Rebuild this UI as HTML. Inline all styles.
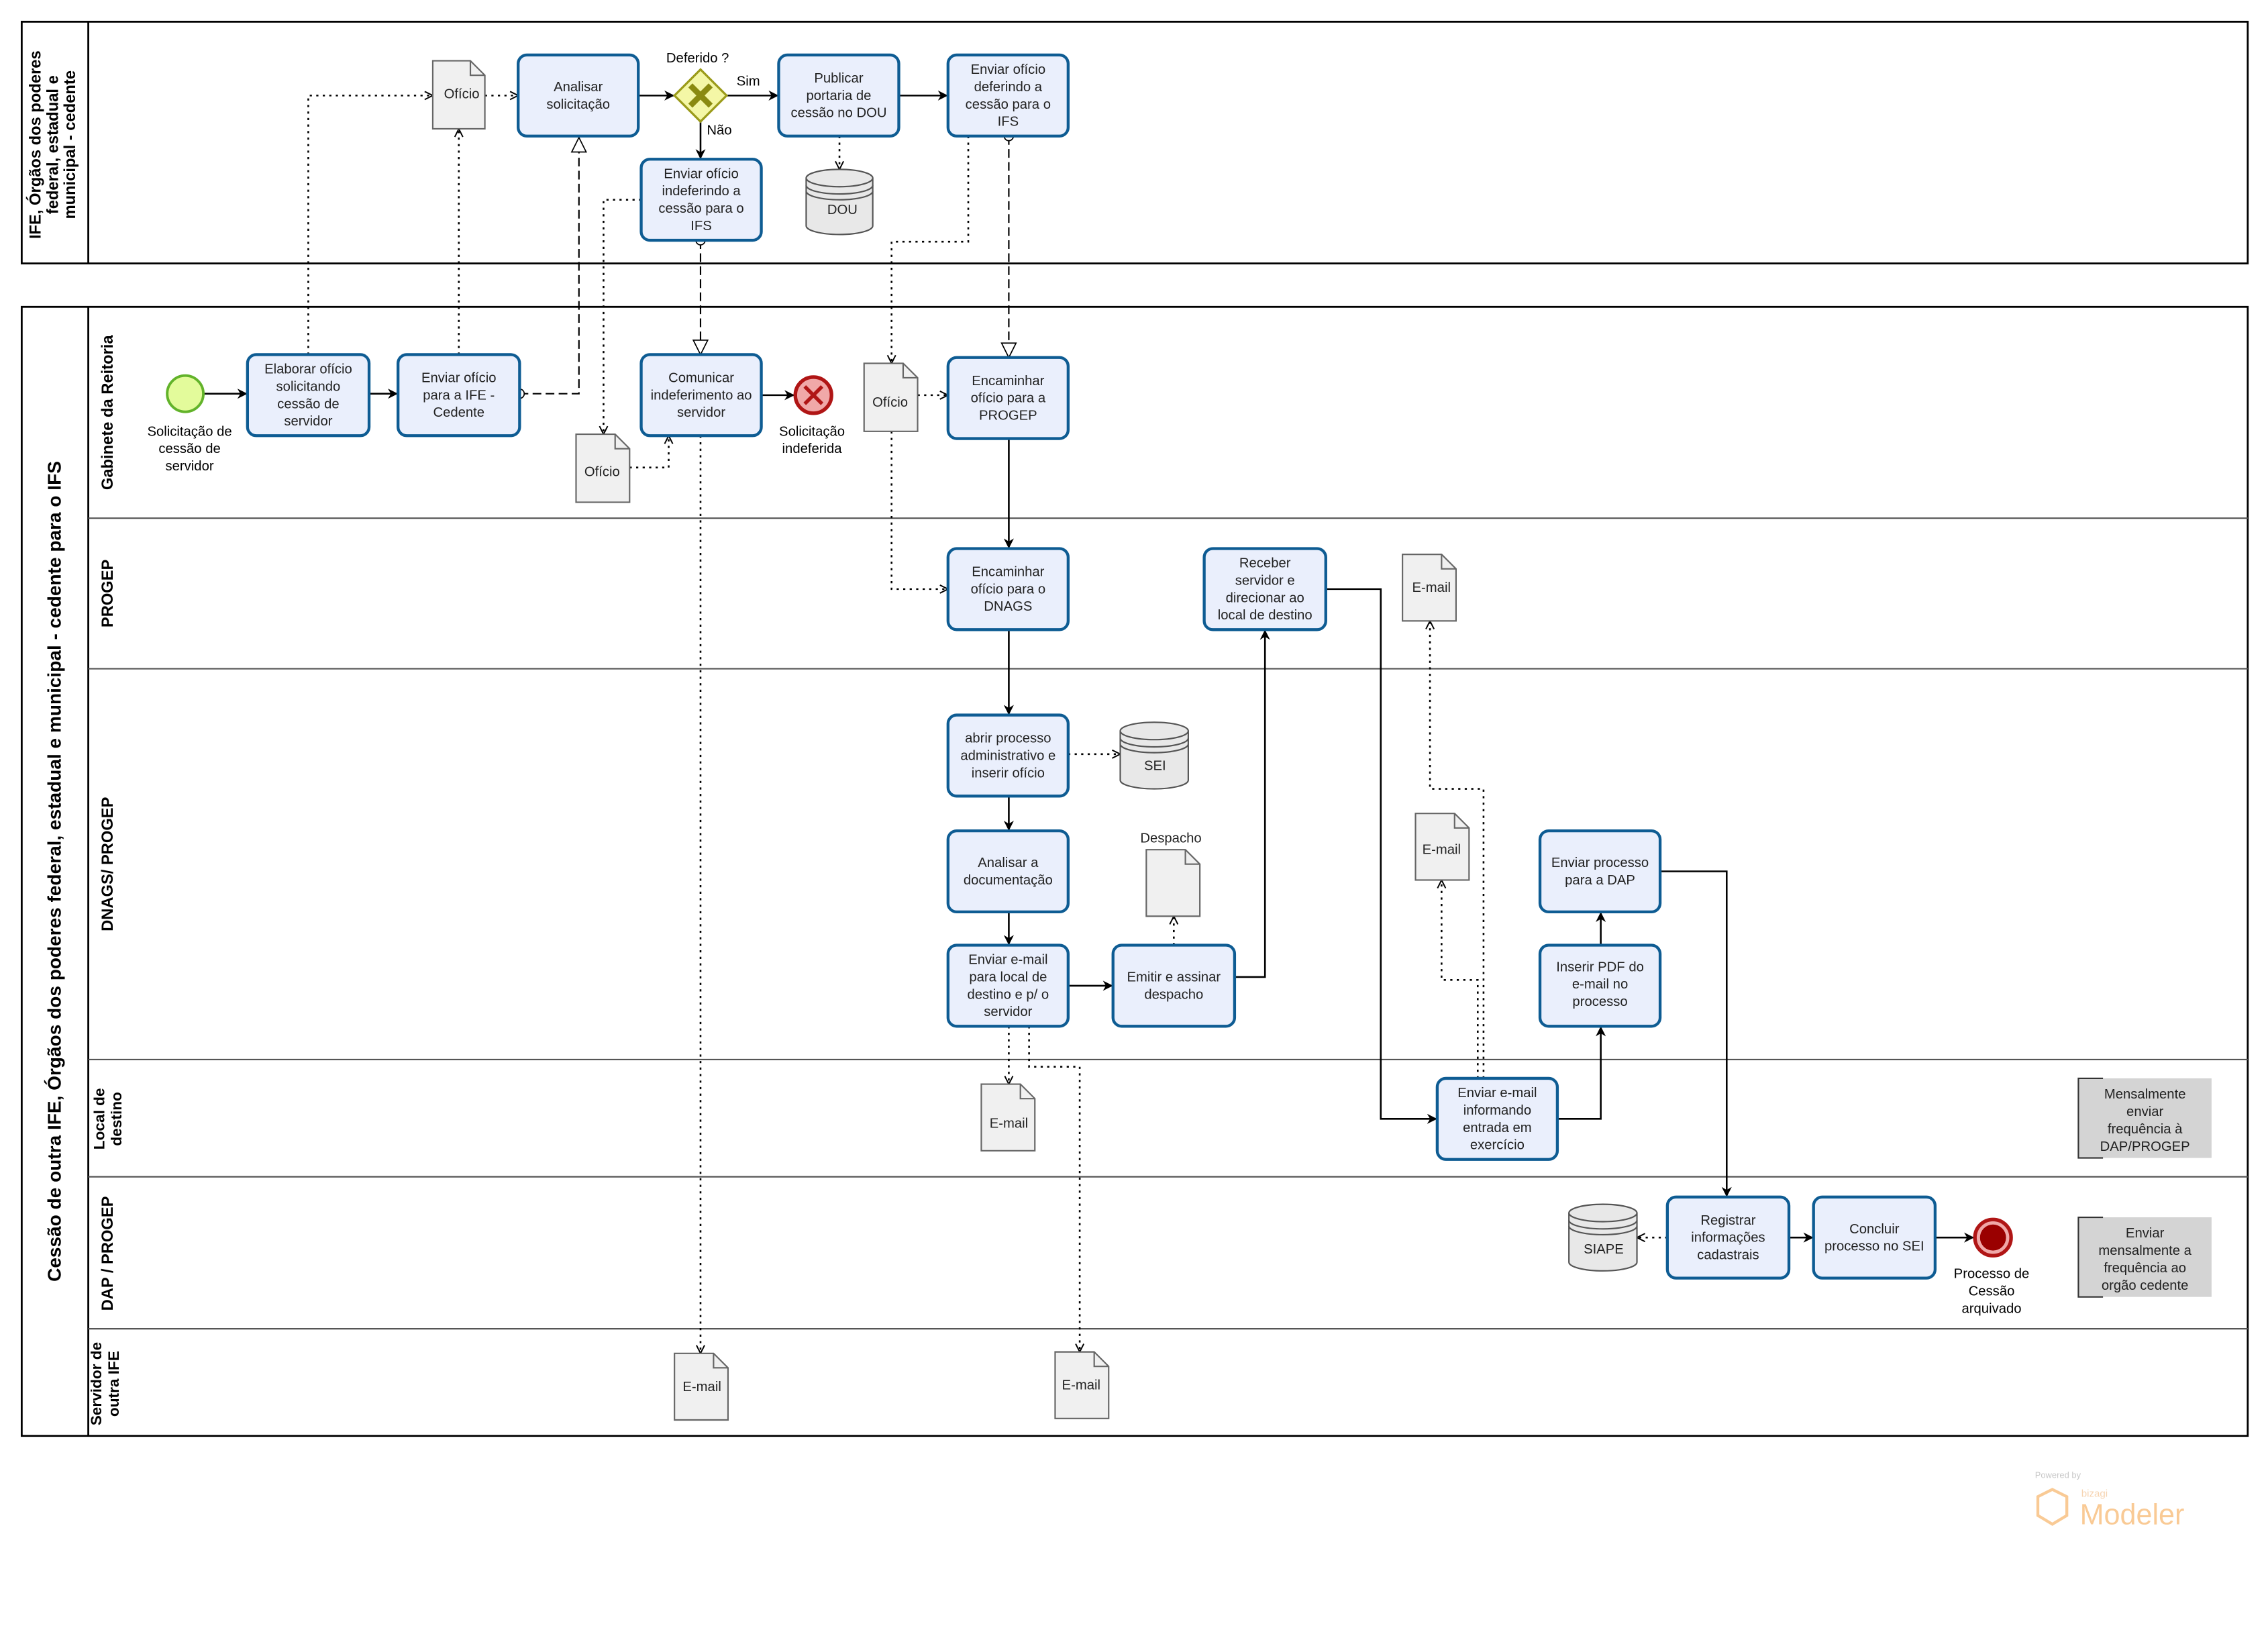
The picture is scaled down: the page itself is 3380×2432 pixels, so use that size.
<!DOCTYPE html>
<html><head><meta charset="utf-8"><style>html,body{margin:0;padding:0;background:#fff}svg{display:block}</style></head>
<body>
<svg xmlns="http://www.w3.org/2000/svg" width="3380" height="2432" viewBox="0 0 1567 1127.5" font-family="Liberation Sans, Arial, sans-serif" font-size="9.4">
<defs>
<marker id="ar" viewBox="0 0 10 10" refX="10" refY="5" markerWidth="7" markerHeight="7" orient="auto-start-reverse" markerUnits="userSpaceOnUse"><path d="M0,0 L10,5 L0,10 L3,5 z" fill="#000"/></marker>
<marker id="op" viewBox="0 0 10 10" refX="9" refY="5" markerWidth="7" markerHeight="7" orient="auto" markerUnits="userSpaceOnUse"><path d="M1,1 L9,5 L1,9" fill="none" stroke="#000" stroke-width="1.3"/></marker>
<marker id="tri" viewBox="0 0 12 12" refX="11" refY="6" markerWidth="12" markerHeight="12" orient="auto" markerUnits="userSpaceOnUse"><path d="M1,1 L11,6 L1,11 z" fill="#fff" stroke="#000" stroke-width="0.8"/></marker>
<marker id="circ" viewBox="0 0 10 10" refX="5" refY="5" markerWidth="8" markerHeight="8" orient="auto" markerUnits="userSpaceOnUse"><circle cx="5" cy="5" r="4" fill="#fff" stroke="#000" stroke-width="1"/></marker>
</defs>
<rect width="1567" height="1127.5" fill="#fff"/>
<g fill="none" stroke="#000" stroke-width="1.3">
<rect x="15" y="15" width="1538" height="167"/>
<line x1="61" y1="15" x2="61" y2="182"/>
<rect x="15" y="212" width="1538" height="780"/>
<line x1="61" y1="212" x2="61" y2="992"/>
</g>
<g stroke="#555" stroke-width="1">
<line x1="61" y1="358" x2="1553" y2="358"/>
<line x1="61" y1="462" x2="1553" y2="462"/>
<line x1="61" y1="732" x2="1553" y2="732"/>
<line x1="61" y1="813" x2="1553" y2="813"/>
<line x1="61" y1="918" x2="1553" y2="918"/>
</g>
<g font-weight="bold" text-anchor="middle">
<text transform="translate(38,100) rotate(-90)" font-size="11"><tspan x="0" y="-10">IFE, Órgãos dos poderes</tspan><tspan x="0" y="2">federal, estadual e</tspan><tspan x="0" y="14">municipal - cedente</tspan></text>
<text transform="translate(42,602) rotate(-90)" font-size="13">Cessão de outra IFE, Órgãos dos poderes federal, estadual e municipal - cedente para o IFS</text>
<text transform="translate(78,285) rotate(-90)" font-size="11">Gabinete da Reitoria</text>
<text transform="translate(78,410) rotate(-90)" font-size="11">PROGEP</text>
<text transform="translate(78,597) rotate(-90)" font-size="11">DNAGS/ PROGEP</text>
<text transform="translate(72,773) rotate(-90)" font-size="10.5"><tspan x="0" y="0">Local de</tspan><tspan x="0" y="12">destino</tspan></text>
<text transform="translate(78,866) rotate(-90)" font-size="11">DAP / PROGEP</text>
<text transform="translate(70,956) rotate(-90)" font-size="10.5"><tspan x="0" y="0">Servidor de</tspan><tspan x="0" y="12">outra IFE</tspan></text>
</g>
<g fill="none" stroke="#000" stroke-width="1.2" marker-end="url(#ar)">
<path d="M141,272 H171"/><path d="M255,272 H275"/><path d="M441,66 H466"/><path d="M502,66 H538"/>
<path d="M484,84 V110"/><path d="M621,66 H655"/><path d="M526,273 H549"/>
<path d="M697,303 V379"/><path d="M697,435 V494"/><path d="M697,550 V574"/><path d="M697,630 V653"/>
<path d="M738,681 H769"/><path d="M853,675 H874 V435"/>
<path d="M916,407 H954 V773 H993"/><path d="M1076,773 H1106 V709"/><path d="M1106,653 V630"/>
<path d="M1147,602 H1193 V827"/><path d="M1236,855 H1253"/><path d="M1337,855 H1364"/>
</g>
<g fill="none" stroke="#000" stroke-width="1" stroke-dasharray="6,3" marker-start="url(#circ)" marker-end="url(#tri)">
<path d="M359,272 H400 V95"/><path d="M484,166 V245"/><path d="M697,94 V247"/>
</g>
<g fill="none" stroke="#000" stroke-width="1.2" stroke-dasharray="1.5,3" marker-end="url(#op)">
<path d="M213,245 V66 H299"/><path d="M317,245 V89"/><path d="M335,66 H358"/>
<path d="M443,138 H417 V300"/><path d="M435,323 H462 V301"/><path d="M580,94 V117"/>
<path d="M669,94 V167 H616 V251"/><path d="M634,273 H655"/><path d="M616,298 V407 H655"/>
<path d="M484,301 V935"/><path d="M697,709 V749"/><path d="M711,709 V737 H746 V934"/>
<path d="M738,521 H774"/><path d="M811,653 V633"/>
<path d="M1025,745 V545 H988 V429"/><path d="M1021,745 V677 H996 V608"/><path d="M1152,855 H1131"/>
</g>
<g fill="#eaeffc" stroke="#0e5c93" stroke-width="2">
<rect x="358" y="38" width="83" height="56" rx="6"/>
<rect x="538" y="38" width="83" height="56" rx="6"/>
<rect x="655" y="38" width="83" height="56" rx="6"/>
<rect x="443" y="110" width="83" height="56" rx="6"/>
<rect x="171" y="245" width="84" height="56" rx="6"/>
<rect x="275" y="245" width="84" height="56" rx="6"/>
<rect x="443" y="245" width="83" height="56" rx="6"/>
<rect x="655" y="247" width="83" height="56" rx="6"/>
<rect x="655" y="379" width="83" height="56" rx="6"/>
<rect x="832" y="379" width="84" height="56" rx="6"/>
<rect x="655" y="494" width="83" height="56" rx="6"/>
<rect x="655" y="574" width="83" height="56" rx="6"/>
<rect x="655" y="653" width="83" height="56" rx="6"/>
<rect x="769" y="653" width="84" height="56" rx="6"/>
<rect x="1064" y="574" width="83" height="56" rx="6"/>
<rect x="1064" y="653" width="83" height="56" rx="6"/>
<rect x="993" y="745" width="83" height="56" rx="6"/>
<rect x="1152" y="827" width="84" height="56" rx="6"/>
<rect x="1253" y="827" width="84" height="56" rx="6"/>
</g>
<g fill="#222" text-anchor="middle">
<text><tspan x="399.5" y="63">Analisar</tspan><tspan x="399.5" y="75">solicitação</tspan></text>
<text><tspan x="579.5" y="57">Publicar</tspan><tspan x="579.5" y="69">portaria de</tspan><tspan x="579.5" y="81">cessão no DOU</tspan></text>
<text><tspan x="696.5" y="51">Enviar ofício</tspan><tspan x="696.5" y="63">deferindo a</tspan><tspan x="696.5" y="75">cessão para o</tspan><tspan x="696.5" y="87">IFS</tspan></text>
<text><tspan x="484.5" y="123">Enviar ofício</tspan><tspan x="484.5" y="135">indeferindo a</tspan><tspan x="484.5" y="147">cessão para o</tspan><tspan x="484.5" y="159">IFS</tspan></text>
<text><tspan x="213" y="258">Elaborar ofício</tspan><tspan x="213" y="270">solicitando</tspan><tspan x="213" y="282">cessão de</tspan><tspan x="213" y="294">servidor</tspan></text>
<text><tspan x="317" y="264">Enviar ofício</tspan><tspan x="317" y="276">para a IFE -</tspan><tspan x="317" y="288">Cedente</tspan></text>
<text><tspan x="484.5" y="264">Comunicar</tspan><tspan x="484.5" y="276">indeferimento ao</tspan><tspan x="484.5" y="288">servidor</tspan></text>
<text><tspan x="696.5" y="266">Encaminhar</tspan><tspan x="696.5" y="278">ofício para a</tspan><tspan x="696.5" y="290">PROGEP</tspan></text>
<text><tspan x="696.5" y="398">Encaminhar</tspan><tspan x="696.5" y="410">ofício para o</tspan><tspan x="696.5" y="422">DNAGS</tspan></text>
<text><tspan x="874" y="392">Receber</tspan><tspan x="874" y="404">servidor e</tspan><tspan x="874" y="416">direcionar ao</tspan><tspan x="874" y="428">local de destino</tspan></text>
<text><tspan x="696.5" y="513">abrir processo</tspan><tspan x="696.5" y="525">administrativo e</tspan><tspan x="696.5" y="537">inserir ofício</tspan></text>
<text><tspan x="696.5" y="599">Analisar a</tspan><tspan x="696.5" y="611">documentação</tspan></text>
<text><tspan x="696.5" y="666">Enviar e-mail</tspan><tspan x="696.5" y="678">para local de</tspan><tspan x="696.5" y="690">destino e p/ o</tspan><tspan x="696.5" y="702">servidor</tspan></text>
<text><tspan x="811" y="678">Emitir e assinar</tspan><tspan x="811" y="690">despacho</tspan></text>
<text><tspan x="1105.5" y="599">Enviar processo</tspan><tspan x="1105.5" y="611">para a DAP</tspan></text>
<text><tspan x="1105.5" y="671">Inserir PDF do</tspan><tspan x="1105.5" y="683">e-mail no</tspan><tspan x="1105.5" y="695">processo</tspan></text>
<text><tspan x="1034.5" y="758">Enviar e-mail</tspan><tspan x="1034.5" y="770">informando</tspan><tspan x="1034.5" y="782">entrada em</tspan><tspan x="1034.5" y="794">exercício</tspan></text>
<text><tspan x="1194" y="846">Registrar</tspan><tspan x="1194" y="858">informações</tspan><tspan x="1194" y="870">cadastrais</tspan></text>
<text><tspan x="1295" y="852">Concluir</tspan><tspan x="1295" y="864">processo no SEI</tspan></text>
</g>
<polygon points="484,48 502,66 484,84 466,66" fill="#f4f7a6" stroke="#9b9b1a" stroke-width="1.5"/>
<path d="M477,59 L491,73 M491,59 L477,73" stroke="#8a8a10" stroke-width="4"/>
<text x="482" y="43" text-anchor="middle">Deferido ?</text>
<text x="517" y="59" text-anchor="middle">Sim</text>
<text x="497" y="93" text-anchor="middle">Não</text>
<circle cx="128" cy="272" r="12.5" fill="#e3fb9b" stroke="#62b32a" stroke-width="1.8"/>
<text text-anchor="middle"><tspan x="131" y="301">Solicitação de</tspan><tspan x="131" y="313">cessão de</tspan><tspan x="131" y="325">servidor</tspan></text>
<circle cx="562" cy="273" r="12.5" fill="#f0a8a8" stroke="#b01515" stroke-width="2.5"/>
<path d="M556,267 L568,279 M568,267 L556,279" stroke="#b01515" stroke-width="2.5"/>
<text text-anchor="middle"><tspan x="561" y="301">Solicitação</tspan><tspan x="561" y="313">indeferida</tspan></text>
<circle cx="1377" cy="855" r="12.5" fill="#f0a8a8" stroke="#b01515" stroke-width="2.5"/>
<circle cx="1377" cy="855" r="9" fill="#9a0000"/>
<text text-anchor="middle"><tspan x="1376" y="883">Processo de</tspan><tspan x="1376" y="895">Cessão</tspan><tspan x="1376" y="907">arquivado</tspan></text>
<g fill="#f0f0f0" stroke="#666" stroke-width="1">
<path d="M299,42 h26 l10,10 v37 h-36 z"/>
<path d="M398,300 h27 l10,10 v37 h-37 z"/>
<path d="M597,251 h27 l10,10 v37 h-37 z"/>
<path d="M969,383 h27 l10,10 v36 h-37 z"/>
<path d="M978,562 h27 l10,10 v36 h-37 z"/>
<path d="M792,587 h27 l10,10 v36 h-37 z"/>
<path d="M678,749 h27 l10,10 v36 h-37 z"/>
<path d="M466,935 h27 l10,10 v36 h-37 z"/>
<path d="M729,934 h27 l10,10 v36 h-37 z"/>
</g>
<g fill="none" stroke="#666" stroke-width="1">
<path d="M325,42 v10 h10"/><path d="M425,300 v10 h10"/><path d="M624,251 v10 h10"/><path d="M996,383 v10 h10"/><path d="M1005,562 v10 h10"/><path d="M819,587 v10 h10"/><path d="M705,749 v10 h10"/><path d="M493,935 v10 h10"/><path d="M756,934 v10 h10"/>
</g>
<g fill="#222" text-anchor="middle">
<text x="319" y="68">Ofício</text><text x="416" y="329">Ofício</text><text x="615" y="281">Ofício</text>
<text x="989" y="409">E-mail</text><text x="996" y="590">E-mail</text><text x="697" y="779">E-mail</text>
<text x="485" y="961">E-mail</text><text x="747" y="960">E-mail</text>
<text x="809" y="582">Despacho</text>
</g>
<g fill="#e8e8e8" stroke="#555" stroke-width="1">
<path d="M557,123 v33 a23,6 0 0 0 46,0 v-33"/><ellipse cx="580" cy="123" rx="23" ry="6"/>
<path d="M557,128 a23,6 0 0 0 46,0 M557,132 a23,6 0 0 0 46,0" fill="none"/>
<path d="M774,505 v34 a23.5,6 0 0 0 47,0 v-34"/><ellipse cx="797.5" cy="505" rx="23.5" ry="6"/>
<path d="M774,510 a23.5,6 0 0 0 47,0 M774,514 a23.5,6 0 0 0 47,0" fill="none"/>
<path d="M1084,838 v34 a23.5,6 0 0 0 47,0 v-34"/><ellipse cx="1107.5" cy="838" rx="23.5" ry="6"/>
<path d="M1084,843 a23.5,6 0 0 0 47,0 M1084,847 a23.5,6 0 0 0 47,0" fill="none"/>
</g>
<g fill="#222" text-anchor="middle">
<text x="582" y="148">DOU</text><text x="798" y="532">SEI</text><text x="1108" y="866">SIAPE</text>
</g>
<rect x="1436" y="745" width="92" height="55" fill="#d4d4d4"/>
<path d="M1453,745 H1436 V800 H1453" fill="none" stroke="#333" stroke-width="1"/>
<rect x="1436" y="841" width="92" height="55" fill="#d4d4d4"/>
<path d="M1453,841 H1436 V896 H1453" fill="none" stroke="#333" stroke-width="1"/>
<g fill="#222" text-anchor="middle">
<text><tspan x="1482" y="759">Mensalmente</tspan><tspan x="1482" y="771">enviar</tspan><tspan x="1482" y="783">frequência à</tspan><tspan x="1482" y="795">DAP/PROGEP</tspan></text>
<text><tspan x="1482" y="855">Enviar</tspan><tspan x="1482" y="867">mensalmente a</tspan><tspan x="1482" y="879">frequência ao</tspan><tspan x="1482" y="891">orgão cedente</tspan></text>
</g>
<g opacity="0.55">
<text x="1406" y="1021" font-size="6" fill="#999">Powered by</text>
<text x="1438" y="1034" font-size="7" fill="#f0b070">bizagi</text>
<path d="M1418,1029 l10,5 v13 l-10,6 l-10,-6 v-13 z" fill="none" stroke="#f5a040" stroke-width="2"/>
<text x="1437" y="1053" font-size="20" fill="#f5a040">Modeler</text>
</g>
</svg>
</body></html>
